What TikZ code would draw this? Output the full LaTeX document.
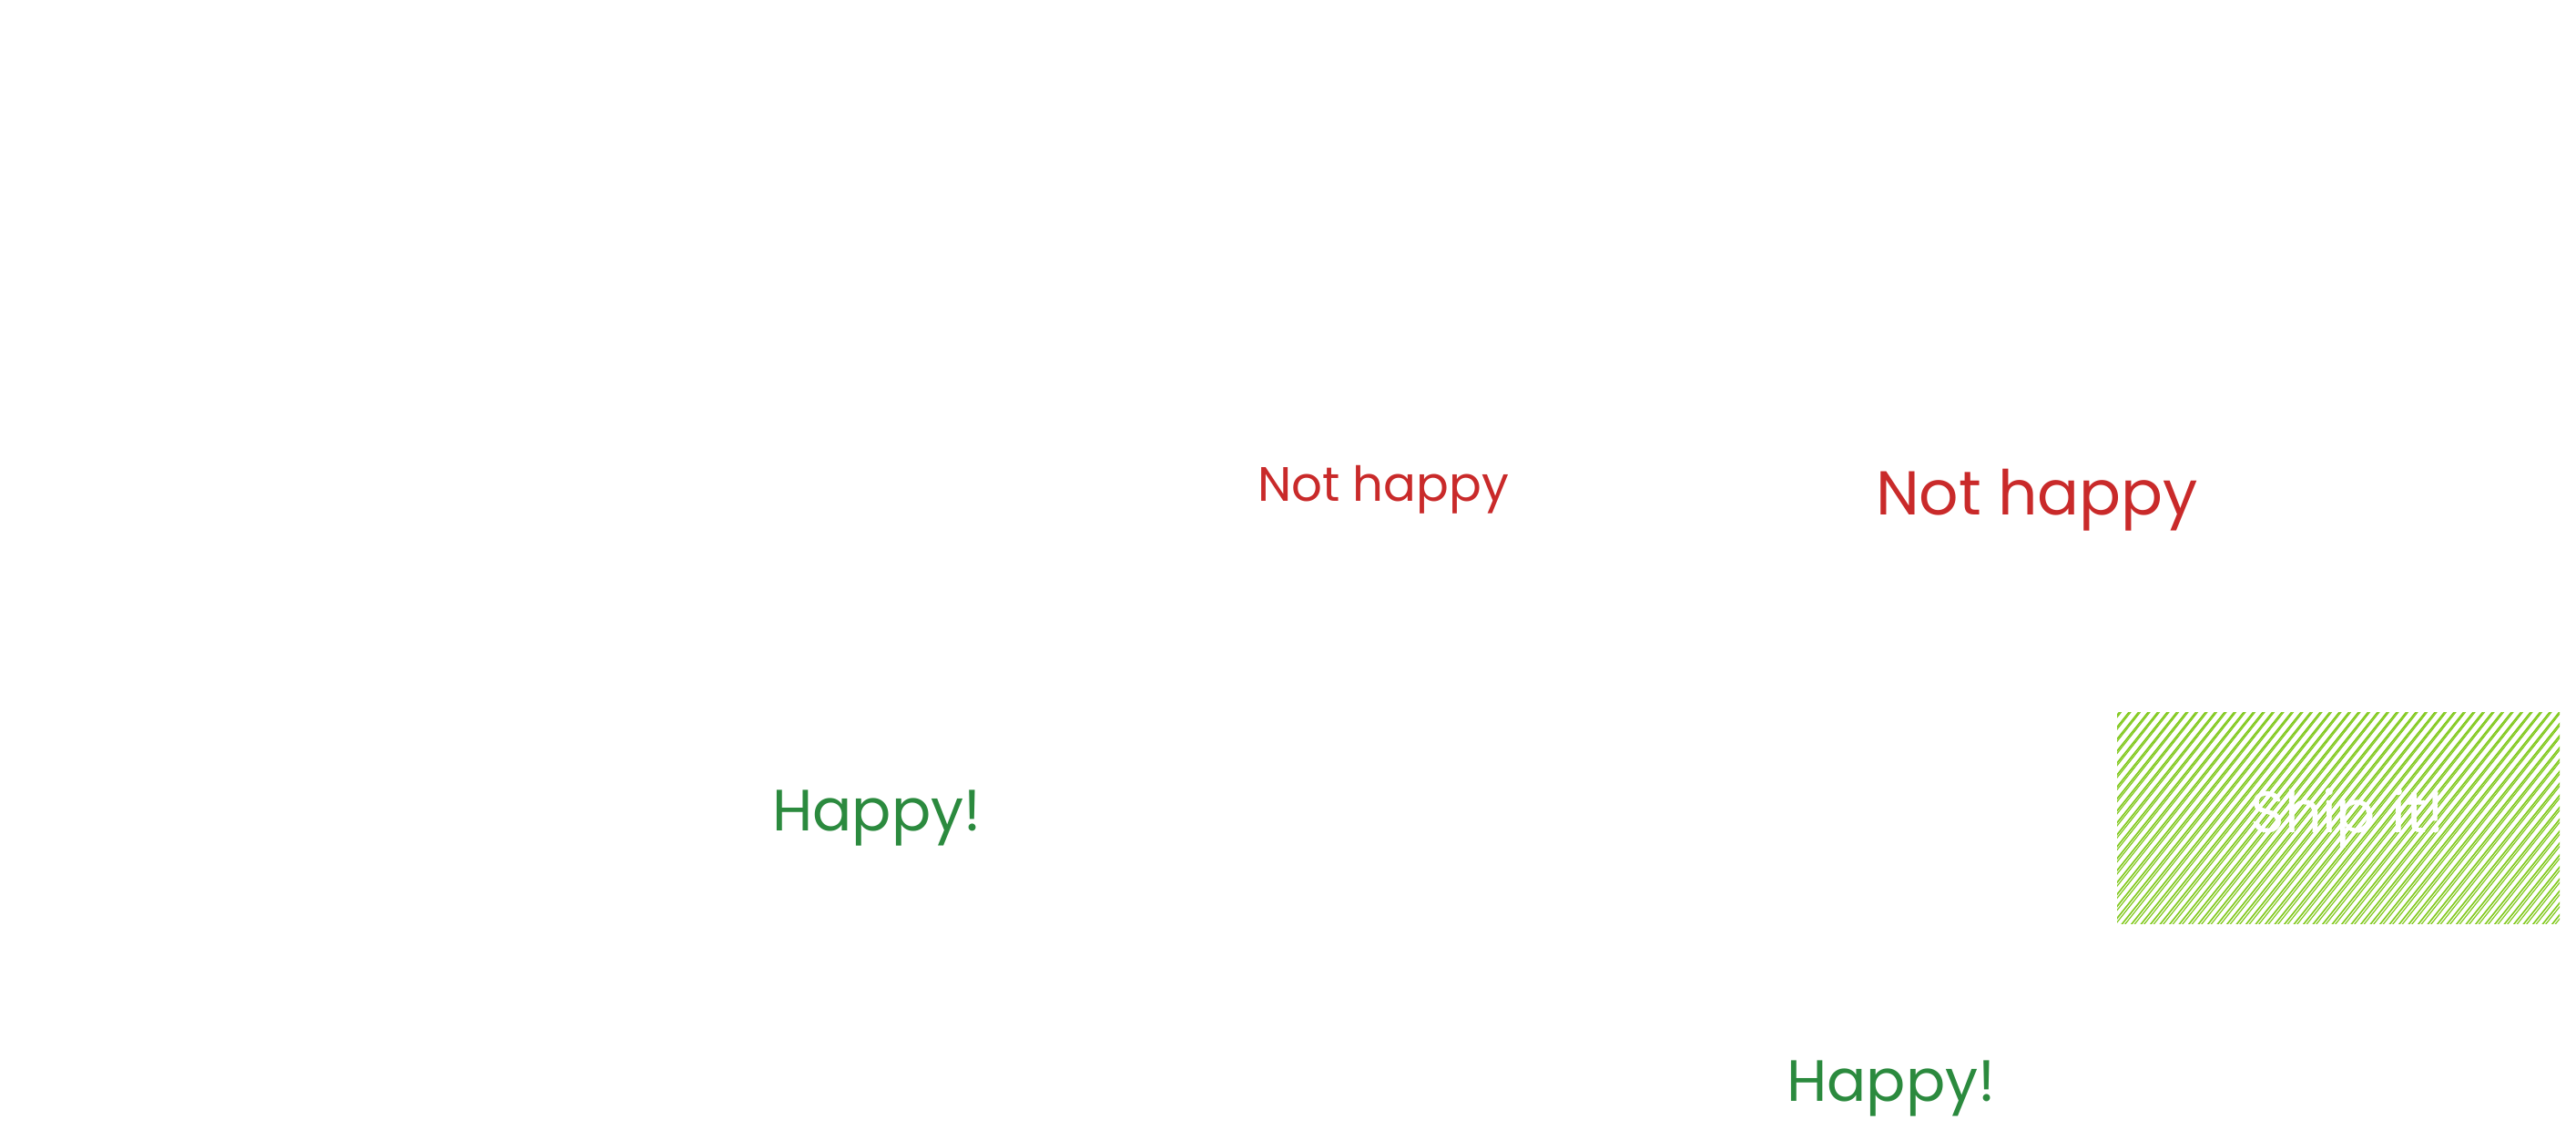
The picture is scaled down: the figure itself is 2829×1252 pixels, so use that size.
\documentclass[tikz,border=0pt]{standalone}
\usepackage{fontspec}
\setmainfont{Poppins}
\definecolor{sadred}{HTML}{C92A2A}
\definecolor{gladgreen}{HTML}{2B8A3E}
\definecolor{hatchlime}{HTML}{82C91E}
\tikzset{
  sadtext/.style={text=sadred, anchor=base, inner sep=0pt},
  gladtext/.style={text=gladgreen, anchor=base, inner sep=0pt, font=\fontsize{32}{36}\selectfont},
  hatchline/.style={draw=hatchlime, line width=0.8pt},
  shiptext/.style={text=white, inner sep=0pt, font=\fontsize{32}{36}\selectfont}
}
\begin{document}
\begin{tikzpicture}[x=0.5pt,y=-0.5pt]
\path[use as bounding box, fill=white] (0,0) rectangle (2829,1252);

% texts
\node[sadtext, font=\fontsize{26.5}{30}\selectfont] (nh1) at (1519,550) {Not happy};
\node[sadtext, font=\fontsize{34}{38}\selectfont] (nh2) at (2237,565) {Not happy};
\node[gladtext] (hp1) at (963,912) {Happy!};
\node[gladtext] (hp2) at (2077,1209) {Happy!};

% hatched box
\coordinate (boxnw) at (2325,782);
\coordinate (boxse) at (2811,1014);
\begin{scope}
  \clip (boxnw) rectangle (boxse);
  \foreach \i in {0,...,68}{
    \draw[hatchline] ({2130+\i*10.5},1016) -- ++(200,-250);
    \draw[hatchline, line width=0.6pt] ({2133.5+\i*10.5},1016) -- ++(199,-251);
  }
\end{scope}
\node[shiptext] (ship) at (2578,898) {Ship it!};
\end{tikzpicture}
\end{document}
